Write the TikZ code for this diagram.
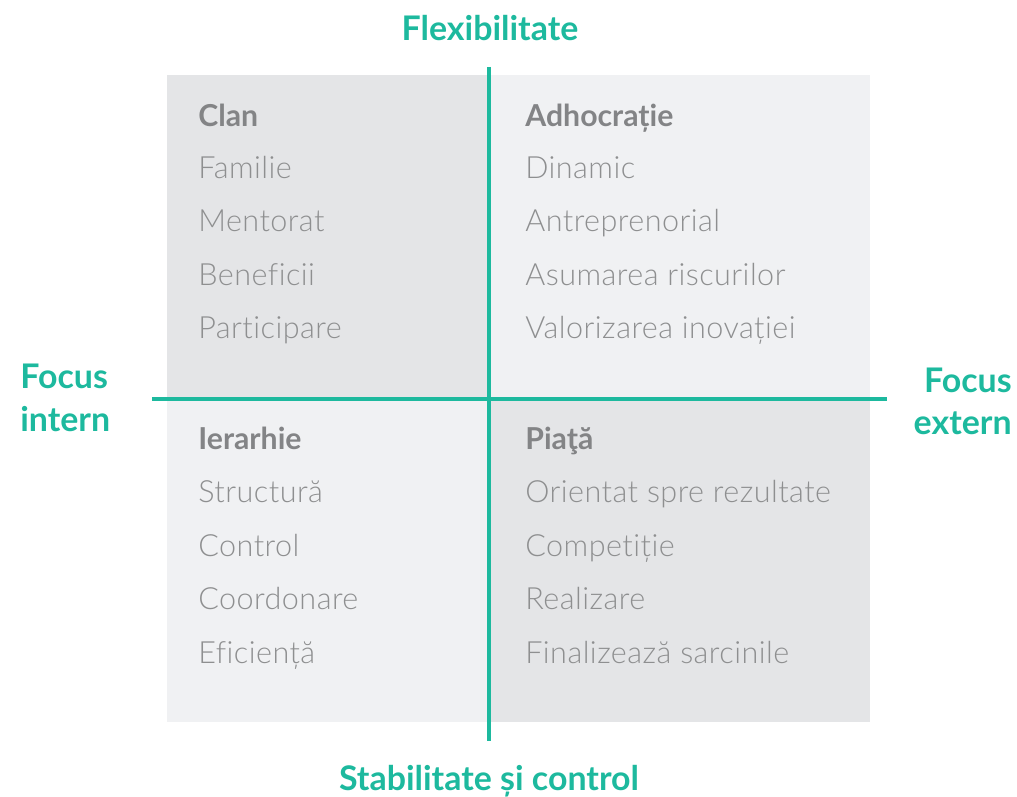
\documentclass[tikz,border=0pt]{standalone}
\usepackage{fontspec}
\setmainfont{Lato}
\newfontfamily\lightfont[Ligatures=NoCommon, LetterSpace=1.5]{Lato Light}
\usetikzlibrary{positioning}

\definecolor{teal}{HTML}{1DB99E}
\definecolor{quaddark}{HTML}{E4E5E7}
\definecolor{quadlight}{HTML}{F0F1F3}
\definecolor{headgray}{HTML}{838486}
\definecolor{itemgray}{HTML}{8E8F90}

\tikzset{
  axislabel/.style={text=teal, font=\fontsize{19.3}{23}\selectfont\bfseries, inner sep=0pt},
  quadhead/.style={text=headgray, font=\fontsize{17.2}{20}\selectfont\bfseries, anchor=base west, inner sep=0pt},
  quaditem/.style={text=itemgray, font=\fontsize{17.4}{20}\selectfont\lightfont, anchor=base west, inner sep=0pt},
  axisline/.style={draw=teal, line width=2.4pt}
}

\begin{document}
\begin{tikzpicture}[x=0.02cm, y=-0.02cm]

  % Bounding box of the scheme
  \useasboundingbox (0,0) rectangle (1017,797);

  %%%%%%%%%%%%%%%%%%%%%%%%%%%%%%%%% Background of the quadrants %%%%%%%%%%%%%%%%%%%%%%%%%%%%%%%%%%%%
  \fill[quaddark]  (167,75)  rectangle (489,399);
  \fill[quadlight] (489,75)  rectangle (870,399);
  \fill[quadlight] (167,399) rectangle (489,722);
  \fill[quaddark]  (489,399) rectangle (870,722);

  %%%%%%%%%%%%%%%%%%%%%%%%%%%%%%%%% Points of the axes %%%%%%%%%%%%%%%%%%%%%%%%%%%%%%%%%%%%
  \draw (489,67)  coordinate (vtop) ;
  \draw (489,741) coordinate (vbot) ;
  \draw (152,399) coordinate (hleft) ;
  \draw (887,399) coordinate (hright) ;

  \draw[axisline] (vtop) -- (vbot) ;
  \draw[axisline] (hleft) -- (hright) ;

  %%%%%%%%%%%%%%%%%%%%%%%%%%%%%%%%% Axis labels %%%%%%%%%%%%%%%%%%%%%%%%%%%%%%%%%%%%
  \draw (490,41) node[axislabel, anchor=base] (flex) {Flexibilitate} ;
  \draw (489,790) node[axislabel, anchor=base] (stab) {Stabilitate și control} ;
  \draw (20,388) node[axislabel, anchor=base west] (intern) {Focus} ;
  \draw (20,431) node[axislabel, anchor=base west] (intern2) {intern} ;
  \draw (1012,392) node[axislabel, anchor=base east] (extern) {Focus} ;
  \draw (1012,434) node[axislabel, anchor=base east] (extern2) {extern} ;

  %%%%%%%%%%%%%%%%%%%%%%%%%%%%%%%%% Quadrant texts %%%%%%%%%%%%%%%%%%%%%%%%%%%%%%%%%%%%
  % Headings
  \draw (198,127) node[quadhead] (clan) {Clan} ;
  \draw (525,127) node[quadhead] (adhoc) {Adhocrație} ;
  \draw (198,449) node[quadhead] (ierarhie) {Ierarhie} ;
  \draw (525,449) node[quadhead] (piata) {Piaţă} ;

  % Items
  \foreach \txt [count=\i] in {Familie, Mentorat, Beneficii, Participare} {
    \draw (198,126+53*\i) node[quaditem] (clan\i) {\txt} ;
  }
  \foreach \txt [count=\i] in {Dinamic, Antreprenorial, Asumarea riscurilor, Valorizarea inovației} {
    \draw (525,126+53*\i) node[quaditem] (adhoc\i) {\txt} ;
  }
  \foreach \txt [count=\i] in {Structură, Control, Coordonare, Eficiență} {
    \draw (198,449+53.5*\i) node[quaditem] (ierarhie\i) {\txt} ;
  }
  \foreach \txt [count=\i] in {Orientat spre rezultate, Competiție, Realizare, Finalizează sarcinile} {
    \draw (525,449+53.5*\i) node[quaditem] (piata\i) {\txt} ;
  }

\end{tikzpicture}
\end{document}
